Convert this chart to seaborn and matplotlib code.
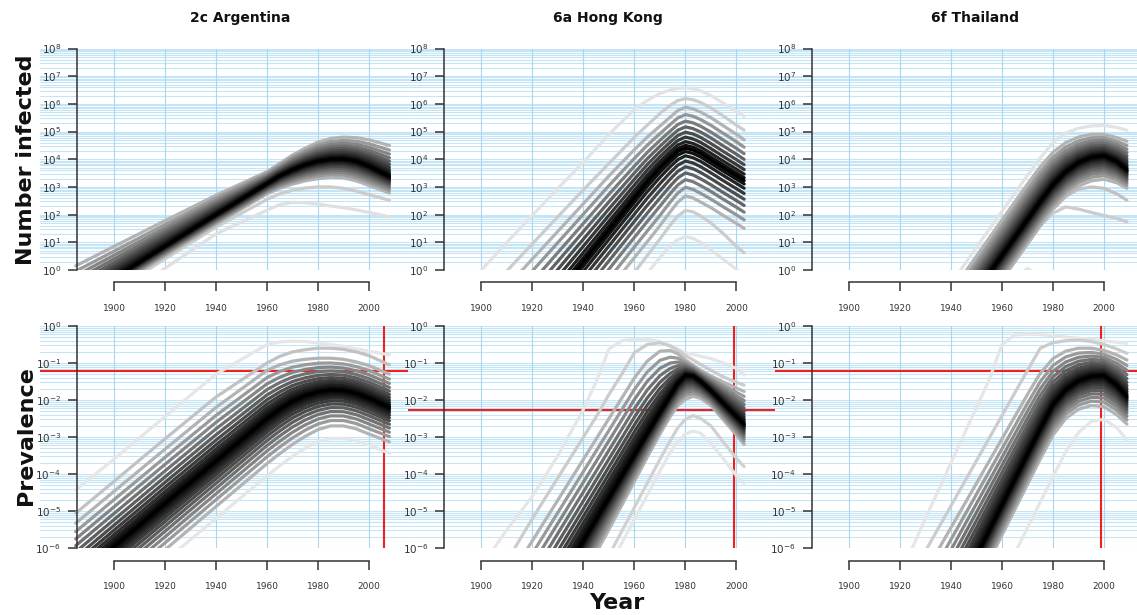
import numpy as np
import pandas as pd
import matplotlib
matplotlib.use("Agg")
import matplotlib.pyplot as plt
import seaborn as sns
from matplotlib.ticker import FixedLocator, NullLocator

sns.set_theme(style="white")
plt.rcParams["font.family"] = ["DejaVu Sans"]
plt.rcParams["mathtext.default"] = "regular"

# ---------------------------------------------------------------------------
# Posterior trajectories, log10 scale.  Each panel: median, the upper and
# lower edge of the dense quantile band, and a few outlying trajectories.
# ---------------------------------------------------------------------------

# 2c Argentina -- number infected
ARG_N_YEARS = [1885, 1900, 1920, 1940, 1960, 1965, 1970, 1975, 1980, 1985, 1990, 1995, 2000, 2008]
ARG_N_MEDIAN = [-1.14, -0.29, 0.86, 2.0, 3.12, 3.4, 3.62, 3.8, 3.93, 4.0, 4.01, 3.93, 3.75, 3.38]
ARG_N_UPPER = [0.15, 0.85, 1.78, 2.7, 3.55, 3.85, 4.15, 4.4, 4.62, 4.75, 4.8, 4.78, 4.7, 4.5]
ARG_N_LOWER = [-1.5, -0.65, 0.5, 1.65, 2.75, 2.95, 3.1, 3.22, 3.3, 3.35, 3.33, 3.22, 3.05, 2.78]
ARG_N_LO1 = [-2.1, -1.1, 0.06, 1.3, 2.16, 2.36, 2.44, 2.43, 2.38, 2.31, 2.25, 2.17, 2.08, 1.92]
ARG_N_LO2 = [-1.6, -0.75, 0.4, 1.55, 2.55, 2.75, 2.88, 2.96, 3.0, 3.0, 2.95, 2.85, 2.72, 2.52]

# 2c Argentina -- prevalence
ARG_P_YEARS = ARG_N_YEARS
ARG_P_MEDIAN = [-6.85, -5.97, -4.8, -3.65, -2.5, -2.25, -2.03, -1.88, -1.78, -1.73, -1.74, -1.82, -1.95, -2.2]
ARG_P_UPPER = [-5.33, -4.47, -3.33, -2.2, -1.2, -1.05, -0.95, -0.9, -0.87, -0.87, -0.9, -0.97, -1.07, -1.3]
ARG_P_LOWER = [-8.1, -7.2, -6.05, -4.88, -3.72, -3.45, -3.2, -2.98, -2.8, -2.7, -2.7, -2.78, -2.92, -3.13]
ARG_P_HI1 = [-4.43, -3.6, -2.45, -1.3, -0.5, -0.43, -0.41, -0.42, -0.46, -0.5, -0.55, -0.62, -0.68, -0.78]
ARG_P_HI2 = [-5.06, -4.2, -3.05, -1.92, -1.0, -0.82, -0.7, -0.64, -0.6, -0.6, -0.63, -0.7, -0.8, -1.05]
ARG_P_LO1 = [-8.4, -7.5, -6.35, -5.2, -4.05, -3.78, -3.52, -3.3, -3.12, -3.04, -3.04, -3.1, -3.22, -3.44]

# 6a Hong Kong -- number infected
HK_N_YEARS = [1900, 1910, 1920, 1930, 1940, 1950, 1960, 1965, 1970, 1974, 1977, 1980, 1983, 1986, 1990, 1995, 2000, 2003]
HK_N_MEDIAN = [-4.3, -3.15, -2.0, -0.85, 0.3, 1.45, 2.6, 3.17, 3.68, 4.04, 4.28, 4.4, 4.33, 4.2, 3.97, 3.68, 3.4, 3.23]
HK_N_UPPER = [-1.6, -0.6, 0.4, 1.4, 2.4, 3.4, 4.35, 4.8, 5.2, 5.52, 5.76, 5.88, 5.82, 5.7, 5.5, 5.2, 4.9, 4.7]
HK_N_LOWER = [-6.45, -5.3, -4.15, -3.0, -1.85, -0.7, 0.45, 1.02, 1.6, 2.1, 2.45, 2.68, 2.6, 2.45, 2.25, 1.96, 1.68, 1.5]
HK_N_HI1 = [0.0, 1.0, 1.98, 2.95, 3.9, 4.9, 5.8, 6.12, 6.38, 6.5, 6.56, 6.58, 6.55, 6.47, 6.3, 6.02, 5.73, 5.55]
HK_N_HI2 = [-1.0, -0.03, 0.95, 1.93, 2.9, 3.85, 4.8, 5.23, 5.65, 5.95, 6.12, 6.19, 6.15, 6.05, 5.85, 5.55, 5.23, 5.05]
HK_N_LO1 = [-7.92, -6.72, -5.52, -4.32, -3.12, -1.92, -0.72, -0.12, 0.45, 0.88, 1.1, 1.2, 1.14, 1.0, 0.72, 0.38, 0.02, -0.2]
HK_N_LO2 = [-7.28, -6.08, -4.88, -3.68, -2.48, -1.28, -0.08, 0.52, 1.12, 1.62, 1.95, 2.15, 2.1, 1.95, 1.7, 1.3, 0.85, 0.62]

# 6a Hong Kong -- prevalence
HK_P_YEARS = [1900, 1910, 1920, 1930, 1940, 1945, 1950, 1955, 1960, 1965, 1970, 1974, 1977, 1980, 1983, 1986, 1990, 1995, 2000, 2003]
HK_P_MEDIAN = [-10.4, -9.25, -8.1, -6.95, -5.8, -5.22, -4.64, -4.06, -3.48, -2.9, -2.33, -1.88, -1.55, -1.33, -1.35, -1.5, -1.75, -2.1, -2.45, -2.65]
HK_P_UPPER = [-8.0, -6.9, -5.8, -4.7, -3.6, -3.05, -2.5, -1.95, -1.4, -0.95, -0.68, -0.66, -0.75, -0.92, -1.06, -1.2, -1.35, -1.52, -1.68, -1.77]
HK_P_LOWER = [-11.4, -10.2, -9.0, -7.8, -6.75, -6.13, -5.5, -4.85, -4.2, -3.55, -2.92, -2.45, -2.15, -1.98, -1.9, -1.96, -2.15, -2.55, -2.95, -3.2]
HK_P_HI1 = [-6.5, -5.5, -4.6, -3.5, -2.25, -1.5, -0.62, -0.4, -0.36, -0.36, -0.42, -0.52, -0.62, -0.72, -0.77, -0.82, -0.88, -1.0, -1.15, -1.32]
HK_P_HI2 = [-7.5, -6.35, -5.2, -4.1, -3.0, -2.45, -1.85, -1.3, -0.72, -0.5, -0.45, -0.54, -0.66, -0.8, -0.92, -1.04, -1.2, -1.38, -1.52, -1.6]
HK_P_LO1 = [-12.0, -11.0, -10.0, -9.0, -7.8, -7.15, -6.5, -5.87, -5.22, -4.57, -3.92, -3.42, -3.12, -2.92, -2.84, -2.9, -3.18, -3.6, -4.05, -4.25]
HK_P_LO2 = [-11.8, -10.8, -9.8, -8.8, -7.6, -6.85, -6.2, -5.55, -4.9, -4.25, -3.6, -3.1, -2.75, -2.52, -2.42, -2.5, -2.7, -3.15, -3.58, -3.8]

# 6f Thailand -- number infected
THA_N_YEARS = [1940, 1945, 1950, 1955, 1960, 1965, 1970, 1975, 1980, 1985, 1990, 1995, 2000, 2005, 2009]
THA_N_MEDIAN = [-2.08, -1.43, -0.78, -0.13, 0.52, 1.17, 1.82, 2.47, 3.08, 3.55, 3.88, 4.07, 4.13, 3.92, 3.62]
THA_N_UPPER = [-0.8, -0.15, 0.5, 1.15, 1.8, 2.45, 3.1, 3.72, 4.25, 4.6, 4.8, 4.9, 4.9, 4.78, 4.65]
THA_N_LOWER = [-2.95, -2.3, -1.65, -1.0, -0.35, 0.3, 0.95, 1.6, 2.2, 2.7, 3.03, 3.22, 3.28, 3.15, 2.95]
THA_N_HI1 = [-0.5, 0.16, 0.82, 1.47, 2.12, 2.77, 3.42, 4.05, 4.6, 4.95, 5.12, 5.2, 5.22, 5.15, 5.05]
THA_N_LO1 = [-2.95, -2.3, -1.65, -1.0, -0.35, 0.3, 0.95, 1.6, 2.05, 2.28, 2.2, 2.08, 1.97, 1.86, 1.74]
THA_N_LO2 = [-2.95, -2.3, -1.65, -1.0, -0.35, 0.3, 0.95, 1.6, 2.2, 2.65, 2.92, 3.0, 2.95, 2.75, 2.52]
THA_N_LO3 = [-5.0, -4.0, -3.0, -2.0, -1.0, -0.3, 0.06, -0.2, -0.8, -1.5, -2.0, -2.5, -3.0, -3.5, -4.0]

# 6f Thailand -- prevalence
THA_P_YEARS = [1920, 1925, 1930, 1935, 1940, 1945, 1950, 1955, 1960, 1965, 1970, 1975, 1980, 1985, 1990, 1995, 2000, 2005, 2009]
THA_P_MEDIAN = [-10.4, -9.7, -9.0, -8.3, -7.6, -6.9, -6.22, -5.53, -4.84, -4.15, -3.46, -2.78, -2.12, -1.72, -1.48, -1.36, -1.34, -1.6, -1.91]
THA_P_UPPER = [-7.85, -7.25, -6.65, -6.05, -5.45, -4.85, -4.25, -3.65, -3.05, -2.45, -1.85, -1.28, -0.88, -0.68, -0.6, -0.6, -0.66, -0.78, -0.92]
THA_P_LOWER = [-11.1, -10.4, -9.7, -9.0, -8.35, -7.65, -7.0, -6.35, -5.65, -4.97, -4.28, -3.6, -2.95, -2.5, -2.25, -2.15, -2.18, -2.4, -2.65]
THA_P_HI1 = [-6.7, -5.97, -5.2, -4.45, -3.7, -2.95, -2.2, -1.45, -0.5, -0.24, -0.22, -0.23, -0.26, -0.3, -0.33, -0.36, -0.4, -0.44, -0.47]
THA_P_HI2 = [-7.3, -6.7, -6.08, -5.47, -4.86, -4.25, -3.64, -3.03, -2.42, -1.81, -1.2, -0.6, -0.45, -0.4, -0.38, -0.42, -0.5, -0.62, -0.74]
THA_P_LO1 = [-12.5, -11.8, -11.1, -10.4, -9.7, -9.0, -8.3, -7.55, -6.8, -6.15, -5.45, -4.76, -4.07, -3.4, -2.88, -2.58, -2.52, -2.75, -3.08]

# Reference marks on the prevalence panels (year, prevalence)
REF_YEAR = [2006, 1999, 1999]
REF_PREV = [0.062, 0.0055, 0.062]

TITLES = ["2c Argentina", "6a Hong Kong", "6f Thailand"]

# Fractions of the way from the median to the band edge for the quantile curves
LEVELS_DENSE = [1.0, 0.85, 0.72, 0.6, 0.49, 0.39, 0.3, 0.22, 0.15, 0.09, 0.04]
LEVELS_SPARSE = [1.0, 0.82, 0.66, 0.52, 0.39, 0.27, 0.16, 0.07]

# ---------------------------------------------------------------------------
W, H = 1137, 615
fig = plt.figure(figsize=(W / 100, H / 100), dpi=100)
fig.patch.set_facecolor("white")

EDGE_GREY = 0.70
AX_COLOR = "#333333"
GRID_H = "#c4e5f5"
GRID_V = "#a8d8ef"


def px_axes(left, top, width, height):
    return fig.add_axes([left / W, 1 - (top + height) / H, width / W, height / H])


def curve_frame(years, median, upper, lower, levels, extras):
    yrs = np.asarray(years, float)
    m = np.asarray(median, float)
    u = np.asarray(upper, float)
    lo = np.asarray(lower, float)
    curves = [("median", m, 0.0)]
    for i, lv in enumerate(levels):
        g = EDGE_GREY * lv ** 0.9
        curves.append((f"up{i}", m + lv * (u - m), g))
        curves.append((f"dn{i}", m + lv * (lo - m), g))
    for name, vals, g in extras:
        curves.append((name, np.asarray(vals, float), g))
    curves.sort(key=lambda c: -c[2])
    frames = []
    for name, vals, g in curves:
        frames.append(pd.DataFrame({"year": yrs, "value": 10.0 ** vals, "curve": name}))
    df = pd.concat(frames, ignore_index=True)
    order = [c[0] for c in curves]
    palette = {c[0]: (c[2], c[2], c[2]) for c in curves}
    return df, order, palette


panels = [
    # row 0: number infected
    (0, 0, ARG_N_YEARS, ARG_N_MEDIAN, ARG_N_UPPER, ARG_N_LOWER, LEVELS_DENSE,
     [("lo1", ARG_N_LO1, 0.88), ("lo2", ARG_N_LO2, 0.8)]),
    (0, 1, HK_N_YEARS, HK_N_MEDIAN, HK_N_UPPER, HK_N_LOWER, LEVELS_SPARSE,
     [("hi1", HK_N_HI1, 0.89), ("hi2", HK_N_HI2, 0.8), ("lo1", HK_N_LO1, 0.89), ("lo2", HK_N_LO2, 0.8)]),
    (0, 2, THA_N_YEARS, THA_N_MEDIAN, THA_N_UPPER, THA_N_LOWER, LEVELS_DENSE,
     [("hi1", THA_N_HI1, 0.89), ("lo1", THA_N_LO1, 0.8), ("lo2", THA_N_LO2, 0.76), ("lo3", THA_N_LO3, 0.9)]),
    # row 1: prevalence
    (1, 0, ARG_P_YEARS, ARG_P_MEDIAN, ARG_P_UPPER, ARG_P_LOWER, LEVELS_DENSE,
     [("hi1", ARG_P_HI1, 0.9), ("hi2", ARG_P_HI2, 0.76), ("lo1", ARG_P_LO1, 0.9)]),
    (1, 1, HK_P_YEARS, HK_P_MEDIAN, HK_P_UPPER, HK_P_LOWER, LEVELS_DENSE,
     [("hi1", HK_P_HI1, 0.9), ("hi2", HK_P_HI2, 0.8), ("lo1", HK_P_LO1, 0.9), ("lo2", HK_P_LO2, 0.82)]),
    (1, 2, THA_P_YEARS, THA_P_MEDIAN, THA_P_UPPER, THA_P_LOWER, LEVELS_DENSE,
     [("hi1", THA_P_HI1, 0.9), ("hi2", THA_P_HI2, 0.8), ("lo1", THA_P_LO1, 0.9)]),
]

ROW_TOP = [48.5, 326.0]
ROW_H = [221.5, 222.0]
ROW_EXP = [(0, 8), (-6, 0)]
COL_LEFT = [40.0, 407.5, 775.0]
COL_W = 367.5
X_LIM = (1871.0, 2015.1)
SPINE_YEAR = 1885.5
X_TICKS = list(range(1900, 2001, 20))

for row, col, years, med, up, lo, levels, extras in panels:
    ax = px_axes(COL_LEFT[col], ROW_TOP[row], COL_W, ROW_H[row])
    ax.set_facecolor("white")
    ax.set_yscale("log")
    ax.grid(False)
    e0, e1 = ROW_EXP[row]

    # light-blue guide lines: every 1..9 x 10^k horizontally, every 20 years vertically
    for k in range(e0, e1 + 1):
        for m in range(1, 10):
            v = m * 10.0 ** k
            if v > 10.0 ** e1 * 1.0001:
                break
            ax.axhline(v, color=GRID_H, lw=0.8, zorder=0.5)
    for xv in X_TICKS:
        ax.axvline(xv, color=GRID_V, lw=0.8, zorder=0.6)

    df, order, palette = curve_frame(years, med, up, lo, levels, extras)
    sns.lineplot(data=df, x="year", y="value", hue="curve", hue_order=order,
                 palette=palette, estimator=None, legend=False, sort=False,
                 linewidth=2.3, solid_joinstyle="round", solid_capstyle="round",
                 ax=ax, zorder=3)

    if row == 1:
        ax.axhline(REF_PREV[col], color="#f02020", lw=1.5, zorder=2)
        ax.axvline(REF_YEAR[col], color="#f02020", lw=1.5, zorder=2)

    ax.set_xlim(*X_LIM)
    ax.set_ylim(10.0 ** e0, 10.0 ** e1)
    ax.set_xlabel("")
    ax.set_ylabel("")

    for s in ("top", "right"):
        ax.spines[s].set_visible(False)
    ax.spines["left"].set_position(("data", SPINE_YEAR))
    ax.spines["bottom"].set_position(("outward", 9))
    ax.spines["bottom"].set_bounds(1900, 2000)
    for s in ("left", "bottom"):
        ax.spines[s].set_color(AX_COLOR)
        ax.spines[s].set_linewidth(1.1)
        ax.spines[s].set_zorder(4)

    ax.xaxis.set_major_locator(FixedLocator(X_TICKS))
    ax.yaxis.set_major_locator(FixedLocator([10.0 ** k for k in range(e0, e1 + 1)]))
    ax.yaxis.set_minor_locator(NullLocator())
    ax.xaxis.set_minor_locator(NullLocator())
    ax.tick_params(axis="both", which="major", direction="out", length=6.5, width=1.1,
                   color=AX_COLOR, labelcolor=AX_COLOR,
                   left=True, bottom=True, top=False, right=False)
    ax.tick_params(axis="x", pad=9, labelsize=6.5)
    ax.tick_params(axis="y", pad=5, labelsize=7.5)

    if row == 0:
        fig.text((COL_LEFT[col] + 200) / W, 1 - 18 / H, TITLES[col], ha="center", va="center",
                 fontsize=10, fontweight="bold", color="#111111")

fig.text(26 / W, 1 - 160 / H, "Number infected", rotation=90, ha="center", va="center",
         fontsize=16, fontweight="bold", color="#111111")
fig.text(26 / W, 1 - 436 / H, "Prevalence", rotation=90, ha="center", va="center",
         fontsize=16, fontweight="bold", color="#111111")
fig.text(617 / W, 1 - 603 / H, "Year", ha="center", va="center",
         fontsize=16, fontweight="bold", color="#111111")

fig.savefig("out.png", dpi=100, facecolor="white")
